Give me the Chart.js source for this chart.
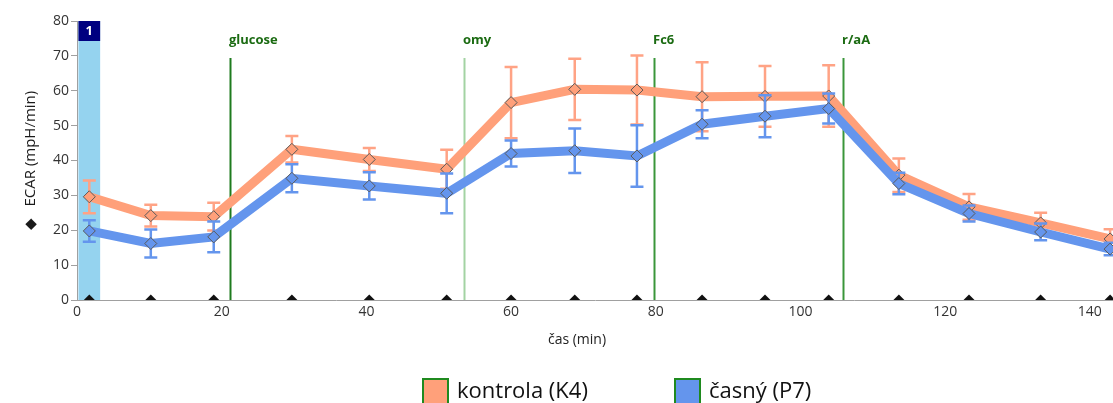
<!DOCTYPE html>
<html>
<head>
<meta charset="utf-8">
<script src="https://cdn.jsdelivr.net/npm/chart.js@4.4.0/dist/chart.umd.min.js"></script>
<style>
    html, body { margin: 0; padding: 0; background: #fff; overflow: hidden; }
    #wrap { width: 1113px; height: 403px; }
</style>
</head>
<body>
<div id="wrap"><canvas id="ecarChart" width="1113" height="403"></canvas></div>
<script>
// Data
const times = [1.7, 10.2, 18.9, 29.7, 40.4, 51.1, 60.0, 68.8, 77.4, 86.4, 95.1, 103.9, 113.6, 123.3, 133.2, 142.8];
const kontrola = [29.6, 24.2, 23.9, 43.2, 40.3, 37.5, 56.6, 60.4, 60.2, 58.3, 58.4, 58.5, 35.8, 26.7, 22.1, 17.5];
const kontrolaErr = [4.7, 3.1, 4.0, 3.8, 3.3, 5.6, 10.2, 8.8, 9.9, 9.9, 8.7, 8.8, 4.8, 3.7, 2.9, 2.8];
const casny = [19.8, 16.2, 18.1, 34.9, 32.7, 30.6, 42.0, 42.8, 41.3, 50.4, 52.7, 54.9, 33.4, 24.8, 19.5, 14.6];
const casnyErr = [3.1, 4.0, 4.4, 4.0, 3.9, 5.7, 3.7, 6.4, 8.8, 4.0, 6.0, 4.3, 3.1, 2.3, 2.4, 1.8];
const seriesNames = ['kontrola (K4)', 'časný (P7)'];
const injectionTimes = [21.1, 53.5, 79.8, 105.9];
const injectionLabels = ['glucose', 'omy', 'Fc6', 'r/aA'];
const periodRanges = [[0.2, 3.2]];
const periodLabels = ['1'];
const xTicks = [0, 20, 40, 60, 80, 100, 120, 140];
const yTicks = [0, 10, 20, 30, 40, 50, 60, 70, 80];

const ORANGE = '#FFA07A';
const BLUE = '#6495ED';
const FONT = "'Open Sans', 'Noto Sans', sans-serif";

// pozadí: modrý pruh periody + injekční čáry
const backdropPlugin = {
    id: 'backdrop',
    beforeDatasetsDraw(chart) {
        const { ctx, chartArea, scales: { x } } = chart;
        ctx.save();
        periodRanges.forEach((r, i) => {
            const x0 = x.getPixelForValue(r[0]);
            const x1 = x.getPixelForValue(r[1]);
            ctx.fillStyle = '#95D3EF';
            ctx.fillRect(x0, chartArea.top, x1 - x0, chartArea.bottom - chartArea.top);
            ctx.fillStyle = '#000080';
            ctx.fillRect(x0, chartArea.top, x1 - x0, 20);
            ctx.fillStyle = '#fff';
            ctx.font = 'bold 13px ' + FONT;
            ctx.textAlign = 'center';
            ctx.textBaseline = 'middle';
            ctx.fillText(periodLabels[i], (x0 + x1) / 2, chartArea.top + 10);
        });
        const lineColors = ['#1E7B1E', '#A3D3A3', '#3A963A', '#3A963A'];
        injectionTimes.forEach((t, i) => {
            const px = Math.round(x.getPixelForValue(t)) + 0.5;
            ctx.strokeStyle = lineColors[i];
            ctx.lineWidth = 2;
            ctx.beginPath();
            ctx.moveTo(px, chartArea.top + 37);
            ctx.lineTo(px, chartArea.bottom);
            ctx.stroke();
            ctx.fillStyle = '#1B6B12';
            ctx.font = 'bold 13px ' + FONT;
            ctx.textAlign = 'left';
            ctx.textBaseline = 'middle';
            ctx.fillText(injectionLabels[i], px - 1.5, chartArea.top + 19);
        });
        ctx.restore();
    }
};

// chybové úsečky
const errorBarPlugin = {
    id: 'errorBars',
    beforeDatasetDraw(chart, args) {
        const ds = chart.data.datasets[args.index];
        if (!ds.errors) return;
        const { ctx, chartArea, scales: { x, y } } = chart;
        ctx.save();
        ctx.beginPath();
        ctx.rect(chartArea.left, chartArea.top, chartArea.right - chartArea.left, chartArea.bottom - chartArea.top);
        ctx.clip();
        ctx.strokeStyle = ds.errorColor;
        ctx.lineWidth = 2.5;
        ds.data.forEach((p, i) => {
            const px = x.getPixelForValue(p.x);
            const top = y.getPixelForValue(p.y + ds.errors[i]);
            const bot = y.getPixelForValue(p.y - ds.errors[i]);
            ctx.beginPath();
            ctx.moveTo(px, top);
            ctx.lineTo(px, bot);
            ctx.moveTo(px - 6.5, top);
            ctx.lineTo(px + 6.5, top);
            ctx.moveTo(px - 6.5, bot);
            ctx.lineTo(px + 6.5, bot);
            ctx.stroke();
        });
        ctx.restore();
    }
};

// legenda a popis osy x
const legendPlugin = {
    id: 'bottomLegend',
    afterDraw(chart) {
        const { ctx } = chart;
        ctx.save();
        ctx.fillStyle = '#222';
        ctx.font = '14px ' + FONT;
        ctx.textAlign = 'center';
        ctx.textBaseline = 'middle';
        ctx.fillText('čas (min)', 577, 340);

        const items = [{ x: 422, color: ORANGE }, { x: 674, color: BLUE }];
        items.forEach((it, i) => {
            ctx.fillStyle = it.color;
            ctx.fillRect(it.x, 378, 27, 27);
            ctx.strokeStyle = '#1F8A1F';
            ctx.lineWidth = 2;
            ctx.strokeRect(it.x + 1, 379, 25, 25);
            ctx.fillStyle = '#111';
            ctx.font = '22px ' + FONT;
            ctx.textAlign = 'left';
            ctx.textBaseline = 'alphabetic';
            ctx.fillText(seriesNames[i], it.x + 35, 398);
        });
        ctx.restore();
    }
};

const ctx = document.getElementById('ecarChart').getContext('2d');
new Chart(ctx, {
    type: 'line',
    data: {
        datasets: [
            {
                label: seriesNames[1],
                data: times.map((t, i) => ({ x: t, y: casny[i] })),
                errors: casnyErr,
                errorColor: BLUE,
                borderColor: BLUE,
                backgroundColor: BLUE,
                borderWidth: 9,
                pointStyle: 'rectRot',
                pointRadius: 6,
                pointBackgroundColor: BLUE,
                pointBorderColor: '#5A5A5A',
                pointBorderWidth: 1,
                tension: 0,
                order: 0
            },
            {
                label: seriesNames[0],
                data: times.map((t, i) => ({ x: t, y: kontrola[i] })),
                errors: kontrolaErr,
                errorColor: '#FFA385',
                borderColor: ORANGE,
                backgroundColor: ORANGE,
                borderWidth: 9,
                pointStyle: 'rectRot',
                pointRadius: 6,
                pointBackgroundColor: ORANGE,
                pointBorderColor: '#5A5A5A',
                pointBorderWidth: 1,
                tension: 0,
                order: 1
            },
            {
                label: 'ECAR',
                data: times.map(t => ({ x: t, y: 0 })),
                showLine: false,
                pointStyle: 'rectRot',
                pointRadius: 5.5,
                pointBackgroundColor: '#111',
                pointBorderColor: '#111',
                pointBorderWidth: 0,
                borderWidth: 0,
                order: 2
            }
        ]
    },
    options: {
        responsive: false,
        animation: false,
        devicePixelRatio: 1,
        layout: { autoPadding: false, padding: { top: 21, left: 0, right: 0, bottom: 0 } },
        plugins: {
            legend: { display: false },
            tooltip: { enabled: false }
        },
        scales: {
            x: {
                type: 'linear',
                min: 0,
                max: 143.2,
                afterFit: s => { s.height = 103; s.paddingLeft = 0; s.paddingRight = 0; },
                afterBuildTicks: s => { s.ticks = xTicks.map(v => ({ value: v })); },
                grid: { display: true, drawOnChartArea: false, drawTicks: false },
                border: { display: true, color: '#A0A0A0', width: 1 },
                ticks: { color: '#333', font: { family: FONT, size: 14 }, padding: 4, maxRotation: 0 }
            },
            y: {
                min: 0,
                max: 80,
                afterFit: s => { s.width = 77; s.paddingTop = 0; s.paddingBottom = 0; },
                afterBuildTicks: s => { s.ticks = yTicks.map(v => ({ value: v })); },
                grid: { drawOnChartArea: false, drawTicks: true, tickLength: 6, color: '#A0A0A0' },
                border: { display: true, color: '#A0A0A0', width: 1 },
                ticks: { color: '#333', font: { family: FONT, size: 14 }, padding: 2 },
                title: {
                    display: true,
                    text: '◆   ECAR (mpH/min)',
                    color: '#1A1A1A',
                    font: { family: FONT, size: 15 },
                    padding: { top: 22, bottom: 0 }
                }
            }
        }
    },
    plugins: [backdropPlugin, errorBarPlugin, legendPlugin]
});
</script>
</body>
</html>
